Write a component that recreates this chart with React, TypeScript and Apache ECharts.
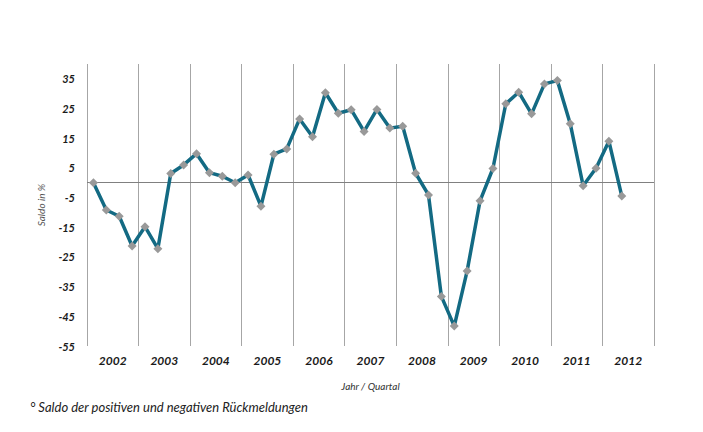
import React, { useEffect, useRef } from "react";
import * as echarts from "echarts";

// Quarterly balance of positive and negative responses, 2002 Q1 – 2012 Q2
const years = ["2002", "2003", "2004", "2005", "2006", "2007", "2008", "2009", "2010", "2011", "2012"];
const quarters = years.flatMap((y) => ["Q1", "Q2", "Q3", "Q4"].map((q) => `${q} ${y}`));
const saldo = [
  0, -9.2, -11.3, -21.3,
  -14.8, -22.2, 3.1, 6.0,
  9.8, 3.4, 2.2, 0,
  2.6, -7.9, 9.6, 11.4,
  21.5, 15.5, 30.3, 23.4,
  24.6, 17.3, 24.7, 18.4,
  19.0, 3.2, -4.1, -38.3,
  -48.3, -29.7, -6.1, 4.8,
  26.6, 30.5, 23.2, 33.3,
  34.4, 19.9, -1.0, 4.9,
  14.0, -4.5,
];
const yTicks = [35, 25, 15, 5, -5, -15, -25, -35, -45, -55];

const FONT = "Lato, 'Open Sans', sans-serif";

export default function App() {
  const ref = useRef<HTMLDivElement>(null);

  useEffect(() => {
    if (!ref.current) return;
    const chart = echarts.init(ref.current, undefined, { renderer: "svg" });
    chart.setOption({
      animation: false,
      backgroundColor: "#ffffff",
      grid: { left: 87, right: 49, top: 64, bottom: 86 },
      xAxis: [
        {
          type: "category",
          data: quarters,
          boundaryGap: true,
          show: false,
        },
        {
          type: "category",
          data: years,
          boundaryGap: true,
          position: "bottom",
          name: "Jahr / Quartal",
          nameLocation: "middle",
          nameGap: 35,
          nameTextStyle: { fontFamily: FONT, fontStyle: "italic", fontSize: 10, color: "#333" },
          axisLine: { show: false },
          axisTick: { show: false },
          axisLabel: {
            margin: 8,
            fontFamily: FONT,
            fontStyle: "italic",
            fontWeight: "bold",
            fontSize: 12,
            color: "#1a1a1a",
          },
          splitLine: { show: true, lineStyle: { color: "#a6a6a6", width: 1 } },
        },
      ],
      yAxis: {
        type: "value",
        min: -55,
        max: 40,
        interval: 5,
        name: "Saldo in %",
        nameLocation: "middle",
        nameGap: 41,
        nameRotate: 90,
        nameTextStyle: { fontFamily: FONT, fontStyle: "italic", fontSize: 10, color: "#555555" },
        axisLine: { show: false },
        axisTick: { show: false },
        splitLine: { show: false },
        axisLabel: {
          margin: 12,
          fontFamily: FONT,
          fontStyle: "italic",
          fontWeight: "bold",
          fontSize: 11,
          color: "#1a1a1a",
          formatter: (v: number) => (yTicks.includes(v) ? String(v) : ""),
        },
      },
      series: [
        {
          type: "line",
          xAxisIndex: 0,
          data: saldo,
          lineStyle: { color: "#136a83", width: 3.5 },
          itemStyle: { color: "#999999" },
          symbol: "diamond",
          symbolSize: 9,
          showSymbol: true,
          showAllSymbol: true,
          z: 3,
          markLine: {
            silent: true,
            symbol: "none",
            label: { show: false },
            lineStyle: { color: "#808080", width: 1, type: "solid" },
            data: [{ yAxis: 0 }],
            z: 1,
          },
        },
      ],
      graphic: [
        {
          type: "text",
          left: 30,
          top: 400,
          style: {
            text: "° Saldo der positiven und negativen Rückmeldungen",
            font: `italic 13px ${FONT}`,
            fill: "#222",
          },
        },
      ],
    });
    return () => chart.dispose();
  }, []);

  return (
    <div
      ref={ref}
      style={{ position: "fixed", left: 0, top: 0, width: 703, height: 432, background: "#fff" }}
    />
  );
}
